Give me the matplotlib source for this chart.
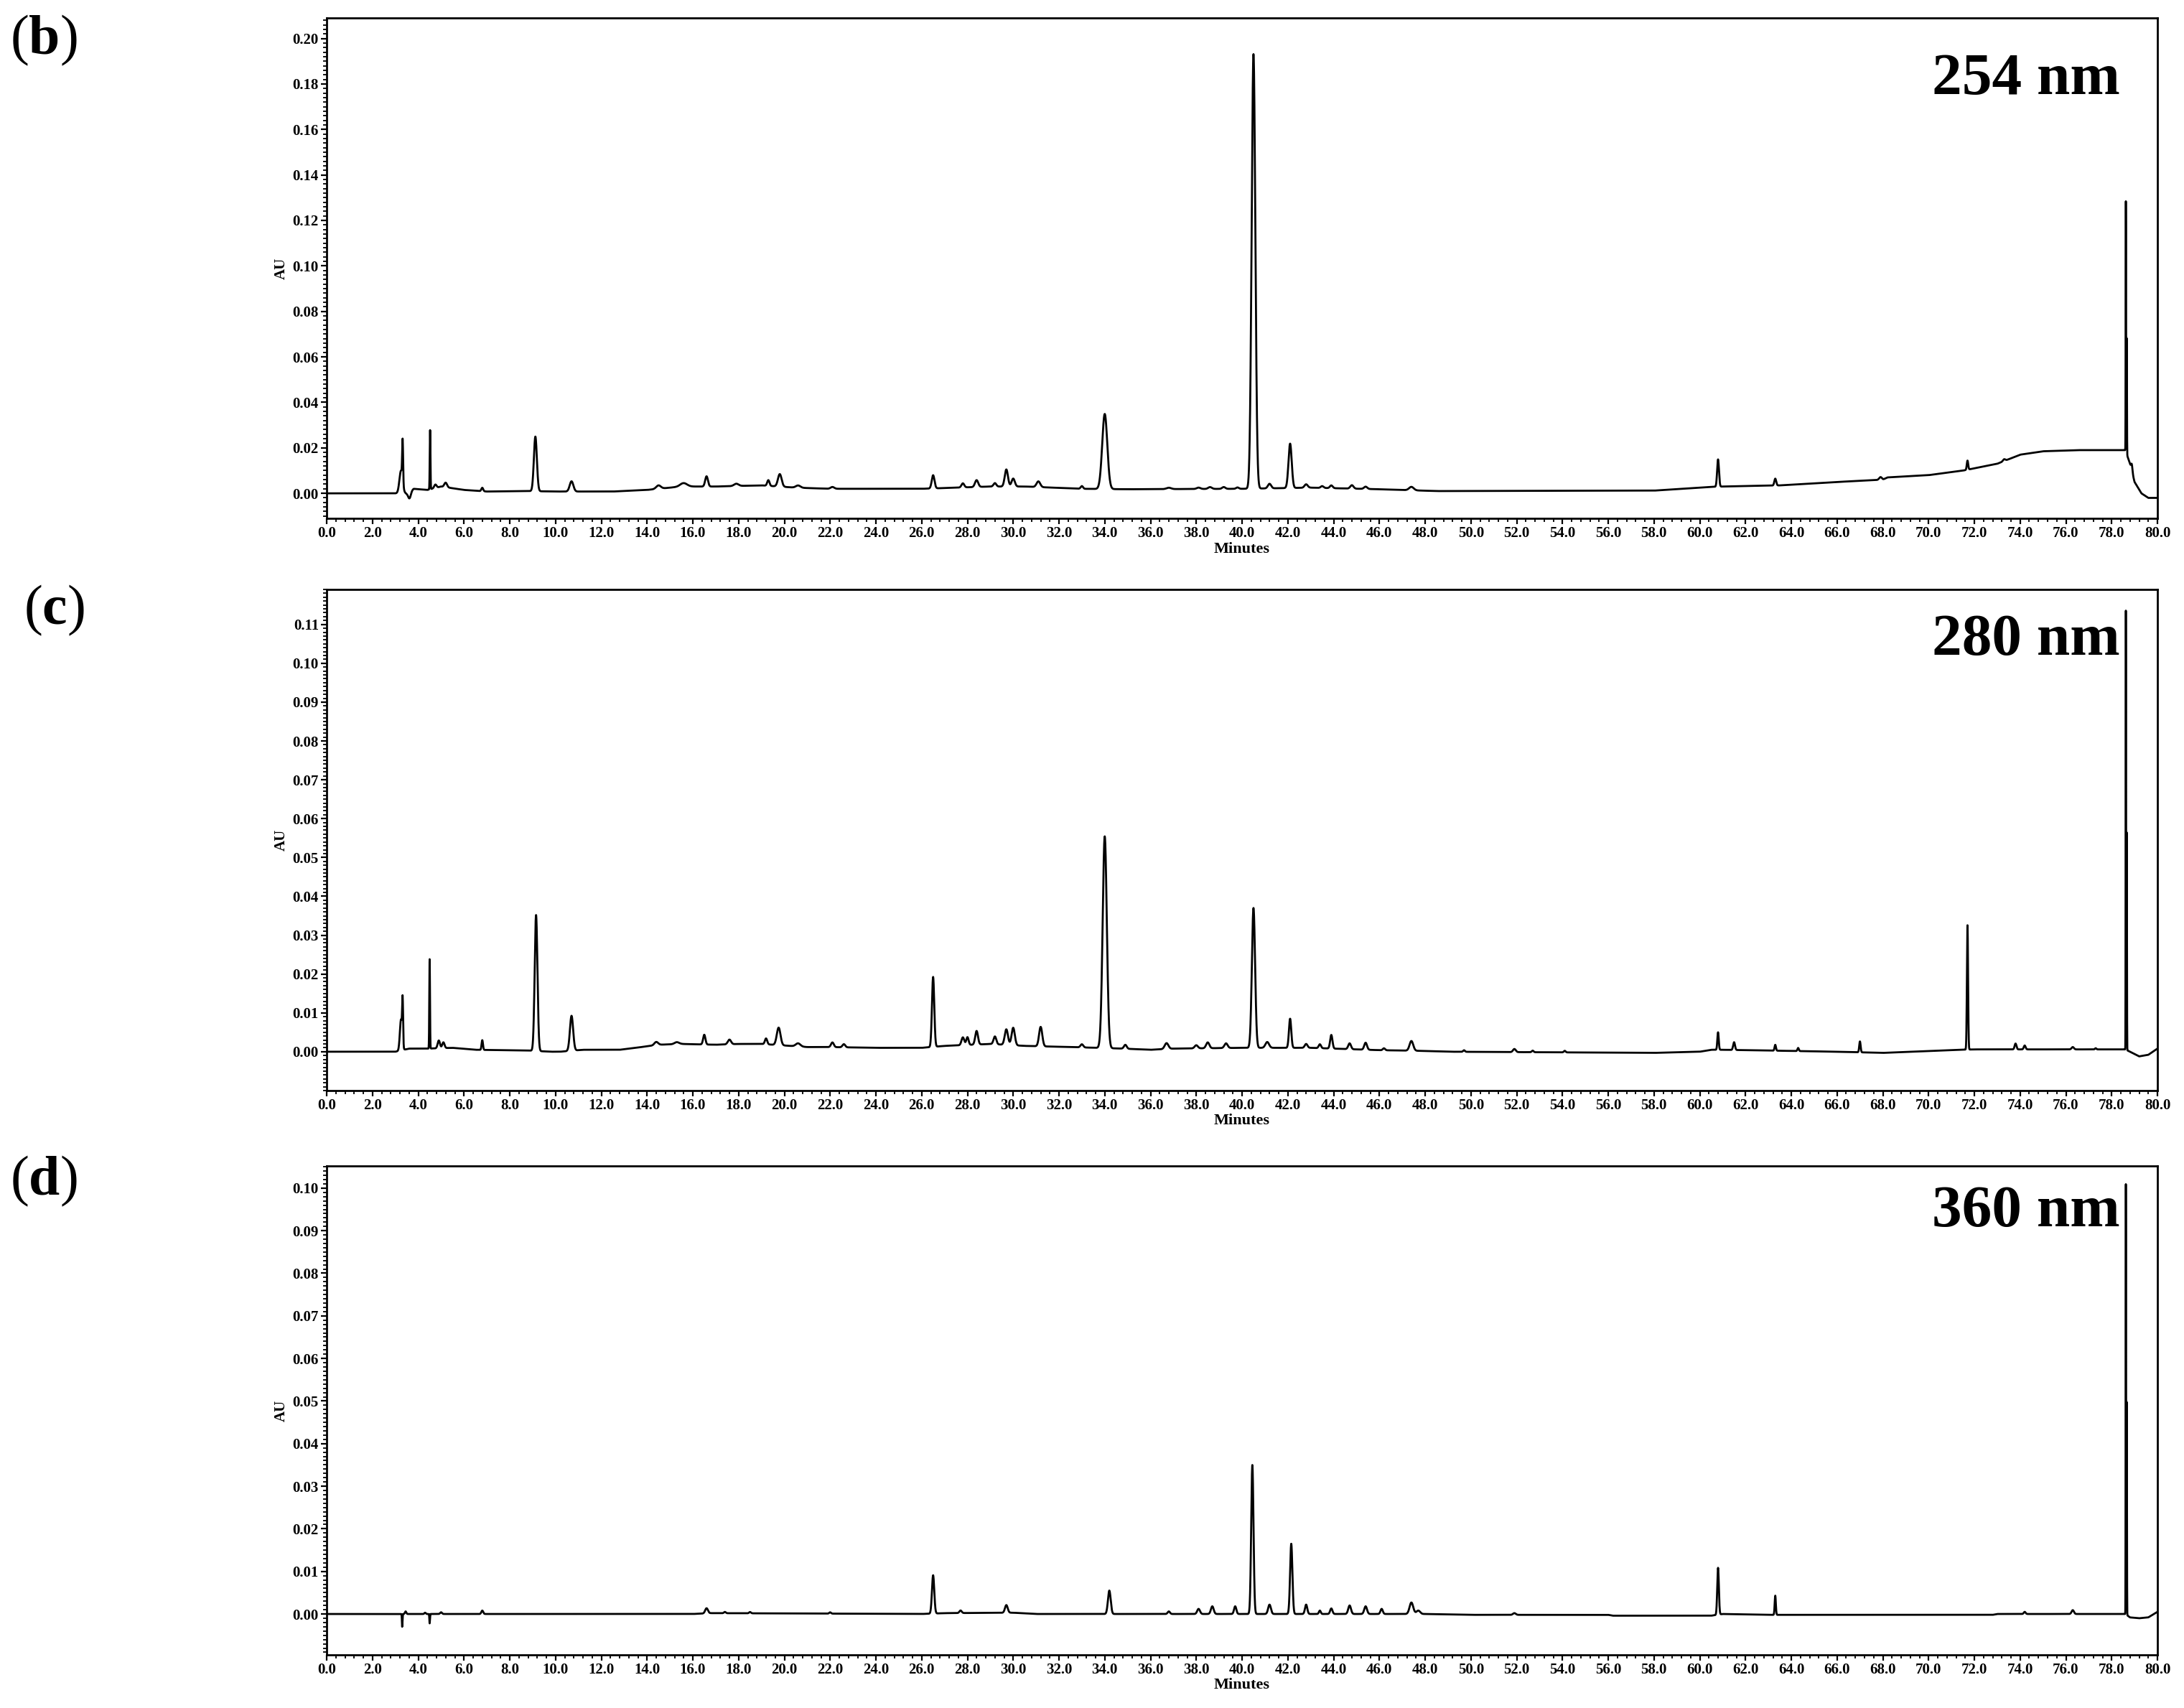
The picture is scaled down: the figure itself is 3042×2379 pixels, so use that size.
import numpy as np
import matplotlib
matplotlib.use("Agg")
import matplotlib.pyplot as plt
from matplotlib.ticker import MultipleLocator, FormatStrFormatter


# Chromatogrammes HPLC a 254, 280 et 360 nm
# Pics : (temps de retention en min, hauteur en AU, largeur sigma en min)

###############################################################################

# Panneau (b) : 254 nm
pics_254 = [
    (3.25, 0.010, 0.07), (3.32, 0.018, 0.02), (3.62, -0.003, 0.06),
    (4.52, 0.026, 0.015), (4.75, 0.0015, 0.05), (5.2, 0.002, 0.06),
    (6.8, 0.0015, 0.04), (9.12, 0.024, 0.065), (10.7, 0.0045, 0.08),
    (14.5, 0.0015, 0.1), (15.6, 0.0015, 0.15), (16.6, 0.0045, 0.06),
    (17.9, 0.001, 0.1), (19.3, 0.0025, 0.05), (19.8, 0.0055, 0.08),
    (20.6, 0.001, 0.1), (22.1, 0.0008, 0.08), (26.5, 0.0058, 0.06),
    (27.8, 0.0018, 0.06), (28.4, 0.003, 0.07), (29.2, 0.0015, 0.06),
    (29.7, 0.0075, 0.07), (30.0, 0.0035, 0.07), (31.1, 0.0025, 0.08),
    (33.0, 0.0012, 0.05), (34.0, 0.033, 0.11), (36.8, 0.0006, 0.1),
    (38.1, 0.0006, 0.08), (38.6, 0.0008, 0.08), (39.2, 0.0008, 0.07),
    (39.8, 0.0006, 0.06), (40.5, 0.191, 0.08), (41.2, 0.002, 0.07),
    (42.1, 0.0195, 0.07), (42.8, 0.0015, 0.07), (43.5, 0.0008, 0.06),
    (43.9, 0.0012, 0.06), (44.8, 0.0015, 0.07), (45.4, 0.0010, 0.07),
    (47.4, 0.0015, 0.1), (60.8, 0.012, 0.04), (63.3, 0.003, 0.04),
    (67.9, 0.0012, 0.06), (71.7, 0.004, 0.03), (73.3, 0.0008, 0.05),
    (78.62, 0.110, 0.008), (78.66, 0.051, 0.008), (78.88, 0.003, 0.03),
]
ligne_base_254 = [
    (0.0, 0.0), (3.0, 0.0), (3.5, 0.0), (3.8, 0.002), (4.4, 0.0015),
    (5.0, 0.003), (6.0, 0.0015), (7.0, 0.0008), (8.8, 0.001), (10.0, 0.0008),
    (12.5, 0.0008), (14.0, 0.0015), (15.5, 0.003), (17.0, 0.003),
    (19.0, 0.0035), (20.5, 0.0025), (22.0, 0.002), (26.0, 0.002),
    (27.5, 0.0025), (29.0, 0.003), (30.5, 0.003), (33.0, 0.002),
    (35.0, 0.0018), (40.0, 0.002), (43.0, 0.0025), (46.0, 0.0018),
    (48.5, 0.001), (58.0, 0.0012), (60.5, 0.0028), (61.0, 0.003),
    (63.5, 0.0035), (66.0, 0.005), (68.0, 0.006), (68.2, 0.007),
    (70.0, 0.008), (71.5, 0.010), (72.0, 0.011), (73.0, 0.013),
    (74.0, 0.017), (75.0, 0.0185), (76.5, 0.019), (78.6, 0.019),
    (78.8, 0.013), (79.0, 0.005), (79.3, 0.0), (79.6, -0.002), (80.0, -0.002),
]

# Panneau (c) : 280 nm
pics_280 = [
    (3.25, 0.008, 0.05), (3.32, 0.011, 0.02), (4.5, 0.023, 0.015),
    (4.9, 0.002, 0.05), (5.1, 0.0015, 0.05), (6.8, 0.0025, 0.03),
    (9.15, 0.035, 0.06), (10.7, 0.009, 0.07), (14.4, 0.0008, 0.08),
    (15.3, 0.0005, 0.1), (16.5, 0.0025, 0.05), (17.6, 0.0012, 0.07),
    (19.2, 0.0015, 0.05), (19.75, 0.0045, 0.08), (20.6, 0.0008, 0.1),
    (22.1, 0.0012, 0.06), (22.6, 0.0008, 0.06), (26.5, 0.018, 0.05),
    (27.8, 0.002, 0.06), (28.0, 0.002, 0.05), (28.4, 0.0035, 0.06),
    (29.2, 0.002, 0.06), (29.7, 0.004, 0.07), (30.0, 0.0045, 0.07),
    (31.2, 0.005, 0.07), (33.0, 0.0008, 0.06), (34.0, 0.0545, 0.09),
    (34.9, 0.001, 0.06), (36.7, 0.0015, 0.08), (38.0, 0.0008, 0.07),
    (38.5, 0.0015, 0.07), (39.3, 0.0012, 0.07), (40.5, 0.036, 0.07),
    (41.1, 0.0015, 0.08), (42.1, 0.0075, 0.05), (42.8, 0.001, 0.06),
    (43.4, 0.001, 0.05), (43.9, 0.0035, 0.05), (44.7, 0.0015, 0.06),
    (45.4, 0.0018, 0.06), (46.2, 0.0005, 0.05), (47.4, 0.0025, 0.08),
    (49.7, 0.0004, 0.04), (51.9, 0.0008, 0.06), (52.7, 0.0004, 0.04),
    (54.1, 0.0004, 0.04), (60.8, 0.0045, 0.03), (61.5, 0.002, 0.04),
    (63.3, 0.0015, 0.03), (64.3, 0.0008, 0.03), (67.0, 0.0028, 0.03),
    (71.7, 0.032, 0.025), (73.8, 0.0015, 0.04), (74.2, 0.001, 0.04),
    (76.3, 0.0006, 0.05), (77.3, 0.0003, 0.03),
    (78.62, 0.113, 0.008), (78.66, 0.056, 0.008),
]
ligne_base_280 = [
    (0.0, 0.0), (3.0, 0.0), (3.6, 0.0008), (4.4, 0.0008), (5.5, 0.001),
    (6.5, 0.0005), (8.8, 0.0003), (9.8, 0.0), (10.2, 0.0), (11.2, 0.0005),
    (12.8, 0.0005), (13.5, 0.001), (14.5, 0.0018), (15.5, 0.002),
    (17.0, 0.0018), (18.0, 0.002), (19.0, 0.002), (21.0, 0.0012),
    (22.0, 0.0012), (24.0, 0.001), (26.0, 0.001), (27.0, 0.0015),
    (29.0, 0.002), (30.5, 0.0015), (32.5, 0.0012), (34.8, 0.0008),
    (36.0, 0.0005), (37.0, 0.0008), (40.0, 0.001), (43.0, 0.001),
    (46.0, 0.0004), (48.0, 0.0002), (49.0, 0.0), (58.0, -0.0003),
    (60.0, 0.0), (60.5, 0.0005), (61.0, 0.0005), (63.0, 0.0003),
    (66.0, 0.0), (68.0, -0.0003), (71.4, 0.0005), (72.0, 0.0006),
    (78.6, 0.0006), (78.8, 0.0), (79.2, -0.0012), (79.6, -0.0008),
    (80.0, 0.0008),
]

# Panneau (d) : 360 nm
pics_360 = [
    (3.3, -0.003, 0.012), (3.45, 0.0006, 0.03), (4.3, 0.0003, 0.03),
    (4.5, -0.0022, 0.012), (5.0, 0.0004, 0.04), (6.8, 0.0008, 0.04),
    (16.6, 0.0012, 0.06), (17.4, 0.0003, 0.04), (18.5, 0.0003, 0.04),
    (22.0, 0.0003, 0.04), (26.5, 0.009, 0.05), (27.7, 0.0006, 0.05),
    (29.7, 0.0018, 0.06), (34.2, 0.0055, 0.06), (36.8, 0.0006, 0.05),
    (38.1, 0.0012, 0.06), (38.7, 0.0018, 0.06), (39.7, 0.0018, 0.05),
    (40.45, 0.035, 0.05), (41.2, 0.0022, 0.06), (42.15, 0.0165, 0.05),
    (42.8, 0.0022, 0.05), (43.4, 0.0008, 0.04), (43.9, 0.0013, 0.05),
    (44.7, 0.002, 0.06), (45.4, 0.0018, 0.06), (46.1, 0.0012, 0.05),
    (47.4, 0.0027, 0.08), (47.7, 0.0008, 0.08), (51.9, 0.0004, 0.06),
    (60.8, 0.011, 0.035), (63.3, 0.0045, 0.025), (74.2, 0.0005, 0.04),
    (76.3, 0.0009, 0.05), (78.62, 0.101, 0.008), (78.66, 0.050, 0.008),
]
ligne_base_360 = [
    (0.0, 0.0), (16.0, 0.0), (16.8, 0.0002), (26.0, 0.0), (27.0, 0.0002),
    (30.0, 0.0003), (31.0, 0.0), (48.0, 0.0), (50.0, -0.0002),
    (56.0, -0.0002), (56.2, -0.0004), (60.5, -0.0004), (61.0, 0.0),
    (63.0, -0.0002), (67.0, -0.0002), (72.8, -0.0002), (73.0, 0.0),
    (78.6, 0.0), (78.8, -0.0008), (79.2, -0.001), (79.6, -0.0008),
    (80.0, 0.0005),
]

lettres = ["b", "c", "d"]
longueurs_onde = ["254 nm", "280 nm", "360 nm"]
ticks_y = [np.arange(0, 0.201, 0.02), np.arange(0, 0.111, 0.01),
           np.arange(0, 0.101, 0.01)]
limites_y = [(-0.011, 0.209), (-0.010, 0.119), (-0.0096, 0.1052)]
ticks_x = np.arange(0, 80.1, 2.0)

###############################################################################


def trace(pics, ligne_base, t):
    """Construit le signal a partir de la liste des pics et de la ligne de base."""
    bt = [p[0] for p in ligne_base]
    by = [p[1] for p in ligne_base]
    signal = np.interp(t, bt, by)
    for rt, h, s in pics:
        signal = signal + h * np.exp(-0.5 * ((t - rt) / s) ** 2)
    return signal


plt.rcParams["font.family"] = ["Liberation Serif", "DejaVu Serif"]
plt.rcParams["mathtext.fontset"] = "custom"
plt.rcParams["mathtext.rm"] = "Liberation Serif"
plt.rcParams["mathtext.bf"] = "Liberation Serif:bold"

fig = plt.figure(figsize=(30.42, 23.79), dpi=100)

W, H = 3042.0, 2379.0
# (haut, bas) de chaque cadre en pixels
cadres = [(25, 722), (821, 1519), (1624, 2305)]
gauche, droite = 455, 3005
pos_lettre = [(14, 56), (33, 850), (14, 1645)]
pos_onde = [112, 892, 1688]

t = np.arange(0, 80.0001, 0.004)
donnees = [(pics_254, ligne_base_254), (pics_280, ligne_base_280),
           (pics_360, ligne_base_360)]

for i, (pics, base) in enumerate(donnees):
    haut, bas = cadres[i]
    ax = fig.add_axes([gauche / W, 1 - bas / H, (droite - gauche) / W,
                       (bas - haut) / H])
    ax.plot(t, trace(pics, base, t), color="black", linewidth=2.0)

    ax.set_xlim(0, 80)
    ax.set_ylim(*limites_y[i])
    ax.set_xticks(ticks_x)
    ax.xaxis.set_minor_locator(MultipleLocator(0.4))
    ax.xaxis.set_major_formatter(FormatStrFormatter("%.1f"))
    ax.set_yticks(ticks_y[i])
    ax.yaxis.set_minor_locator(MultipleLocator((ticks_y[i][1]) / 10))
    ax.yaxis.set_major_formatter(FormatStrFormatter("%.2f"))

    ax.tick_params(which="major", direction="out", length=6, width=1.6,
                   labelsize=15, pad=2)
    ax.tick_params(which="minor", direction="out", length=3.5, width=1.3)
    for lab in ax.get_xticklabels() + ax.get_yticklabels():
        lab.set_fontweight("bold")
    for sp in ax.spines.values():
        sp.set_linewidth(2.0)

    ax.set_xlabel("Minutes", fontsize=16, fontweight="bold", labelpad=1)
    ax.set_ylabel("AU", fontsize=15, fontweight="bold", labelpad=4)

    # etiquette de longueur d'onde
    ax.text(2953 / W, 1 - pos_onde[i] / H, longueurs_onde[i],
            transform=fig.transFigure, ha="right", va="center",
            fontsize=60, fontweight="bold")

    # lettre du panneau
    x0, y0 = pos_lettre[i]
    fig.text(x0 / W, 1 - y0 / H, "(" + r"$\mathbf{" + lettres[i] + "}$" + ")",
             ha="left", va="center", fontsize=56)

fig.savefig("out.png", dpi=100)
